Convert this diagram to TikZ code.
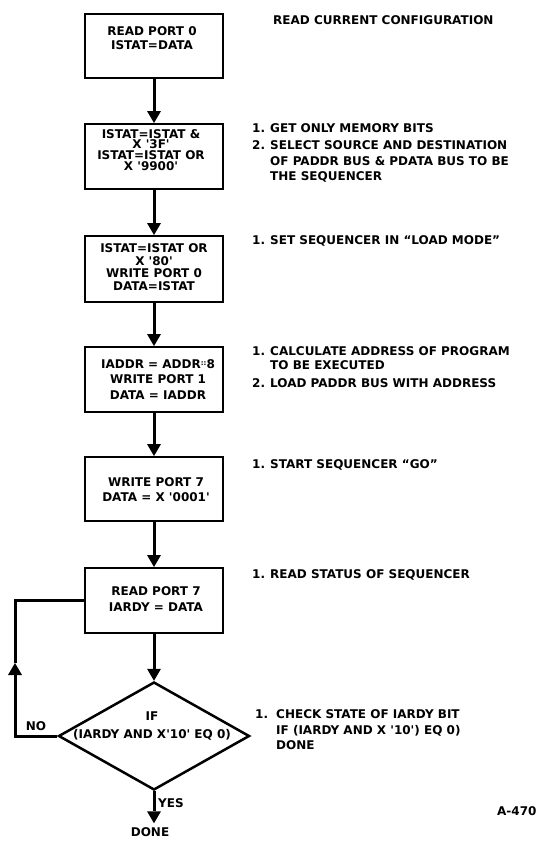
\documentclass[tikz,border=0pt]{standalone}
\usepackage{fontspec}
\setmainfont{DejaVu Sans}
\usetikzlibrary{arrows.meta,shapes.geometric}
\newcommand{\tq}{\textquotesingle}
\begin{document}
\begin{tikzpicture}[x=1pt,y=-1pt,
  txt/.style={font=\bfseries\fontsize{12}{14}\selectfont, inner sep=0pt, align=center},
  note/.style={font=\bfseries\fontsize{12}{14}\selectfont, inner sep=0pt, anchor=base west},
  box/.style={draw, line width=2pt, minimum width=138pt, inner sep=0pt},
  dec/.style={draw, diamond, line width=2.5pt, minimum width=191pt, minimum height=108pt, inner sep=0pt},
  conn/.style={line width=3pt, -{Triangle[width=14pt,length=12pt,line width=0pt]}},
  plain/.style={line width=3pt, line join=miter}]
\useasboundingbox (0,0) rectangle (543,843);
% boxes
\node[box, minimum height=64pt] (b1) at (154,46) {};
\node[box, minimum height=65pt] (b2) at (154,156.5) {};
\node[box, minimum height=66pt] (b3) at (154,269) {};
\node[box, minimum height=65pt] (b4) at (154,379.5) {};
\node[box, minimum height=64pt] (b5) at (154,489) {};
\node[box, minimum height=65pt] (b6) at (154,600.5) {};
\node[dec] (d) at (154,736) {};
% box texts
\node[txt] (t1) at (152,38.5) {READ PORT 0\\ISTAT=DATA};
\node[txt, font=\bfseries\fontsize{12}{10.8}\selectfont] (t2) at (151,150) {ISTAT=ISTAT \&\\X \tq 3F\tq\\ISTAT=ISTAT OR\\X \tq 9900\tq};
\node[txt, font=\bfseries\fontsize{12}{12.7}\selectfont] (t3) at (154,267) {ISTAT=ISTAT OR\\X \tq 80\tq\\WRITE PORT 0\\DATA=ISTAT};
\node[txt, font=\bfseries\fontsize{12}{15.5}\selectfont] (t4) at (158,379.5) {IADDR = ADDR{\fontsize{7}{7}\selectfont\raisebox{3pt}{::}}8\\WRITE PORT 1\\DATA = IADDR};
\node[txt, font=\bfseries\fontsize{12}{15}\selectfont] (t5) at (156,489.5) {WRITE PORT 7\\DATA = X \tq 0001\tq};
\node[txt, font=\bfseries\fontsize{12}{16}\selectfont] (t6) at (156,599) {READ PORT 7\\IARDY = DATA};
\node[txt, font=\bfseries\fontsize{12}{18}\selectfont] (td) at (152,726) {IF\\(IARDY AND X\tq 10\tq\ EQ 0)};
% connectors
\draw[conn] (b1.south) -- (b2.north);
\draw[conn] (b2.south) -- (b3.north);
\draw[conn] (b3.south) -- (b4.north);
\draw[conn] (b4.south) -- (b5.north);
\draw[conn] (b5.south) -- (b6.north);
\draw[conn] (b6.south) -- (d.north);
\coordinate (lp) at (15,663);
\draw[conn] (d.west) -| (lp);
\draw[plain] (lp) |- (b6.west);
\node[txt, inner sep=4pt] (done) at (150,832) {DONE};
\draw[conn] (d.south) -- (d.south |- done.north);
\node[txt] (no) at (36,726) {NO};
\node[txt] (yes) at (171,803) {YES};
% notes
\node[note] (r1) at (273,24.5) {READ CURRENT CONFIGURATION};
\node[note] (r2n1) at (252,132) {1.};
\node[note] (r2a) at (270,132) {GET ONLY MEMORY BITS};
\node[note] (r2n2) at (252,149) {2.};
\node[note] (r2b) at (270,149) {SELECT SOURCE AND DESTINATION};
\node[note] (r2c) at (270,165) {OF PADDR BUS \& PDATA BUS TO BE};
\node[note] (r2d) at (270,180) {THE SEQUENCER};
\node[note] (r3n) at (252,244.5) {1.};
\node[note] (r3a) at (270,244.5) {SET SEQUENCER IN ``LOAD MODE''};
\node[note] (r4n1) at (252,355) {1.};
\node[note] (r4a) at (270,355) {CALCULATE ADDRESS OF PROGRAM};
\node[note] (r4b) at (270,369) {TO BE EXECUTED};
\node[note] (r4n2) at (252,387) {2.};
\node[note] (r4c) at (270,387) {LOAD PADDR BUS WITH ADDRESS};
\node[note] (r5n) at (252,468) {1.};
\node[note] (r5a) at (270,468) {START SEQUENCER ``GO''};
\node[note] (r6n) at (252,578.5) {1.};
\node[note] (r6a) at (270,578.5) {READ STATUS OF SEQUENCER};
\node[note] (r7n) at (255,718) {1.};
\node[note] (r7a) at (276,718) {CHECK STATE OF IARDY BIT};
\node[note] (r7b) at (276,734) {IF (IARDY AND X \tq 10\tq) EQ 0)};
\node[note] (r7c) at (276,749.5) {DONE};
\node[note] (fig) at (497,815) {A-470};
\end{tikzpicture}
\end{document}
